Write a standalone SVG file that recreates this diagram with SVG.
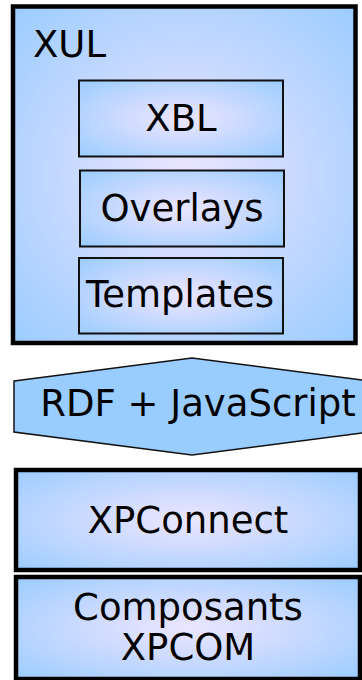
<svg xmlns="http://www.w3.org/2000/svg" width="362" height="680" viewBox="0 0 362 680">
  <defs>
    <radialGradient id="g" cx="0.5" cy="0.5" r="0.72">
      <stop offset="0" stop-color="#ebe6ff"/>
      <stop offset="0.35" stop-color="#d2dcff"/>
      <stop offset="1" stop-color="#99ccff"/>
    </radialGradient>
  </defs>
  <style>
    .thick { fill: url(#g); stroke: #000; stroke-width: 4.5; }
    .thin { fill: url(#g); stroke: #111; stroke-width: 2; }
    .hex { fill: #99ccff; stroke: #111; stroke-width: 1.5; }
    text { font-family: "DejaVu Sans", sans-serif; font-size: 37px; fill: #000; }
    .c { text-anchor: middle; }
  </style>
  <g id="xul">
    <rect class="thick" x="13" y="6.5" width="342.5" height="336.5"/>
    <text x="33" y="57">XUL</text>
  </g>
  <g id="xbl">
    <rect class="thin" x="79" y="80.5" width="204" height="76"/>
    <text class="c" x="181" y="131">XBL</text>
  </g>
  <g id="overlays">
    <rect class="thin" x="80" y="170.5" width="204" height="76"/>
    <text class="c" x="182" y="221">Overlays</text>
  </g>
  <g id="templates">
    <rect class="thin" x="79" y="258" width="204" height="75.5"/>
    <text class="c" x="180" y="307">Templates</text>
  </g>
  <g id="rdf">
    <polygon class="hex" points="14,381 192,358 370,381 370,432 192,455 14,432"/>
    <text class="c" x="198" y="416">RDF + JavaScript</text>
  </g>
  <g id="xpconnect">
    <rect class="thick" x="16" y="470" width="344" height="100"/>
    <text class="c" x="188" y="533">XPConnect</text>
  </g>
  <g id="xpcom">
    <rect class="thick" x="16" y="577" width="344" height="102"/>
    <text class="c" x="188" y="620">Composants</text>
    <text class="c" x="188" y="660">XPCOM</text>
  </g>
  <g id="connectors"/>
</svg>
